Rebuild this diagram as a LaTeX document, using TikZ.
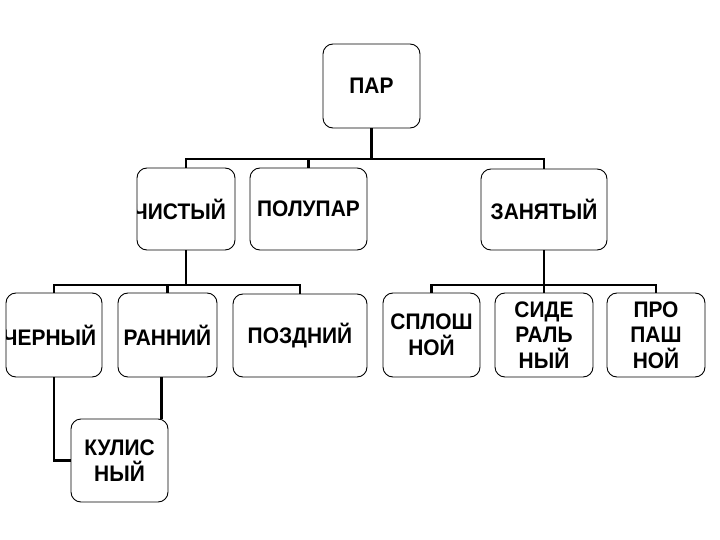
\documentclass[tikz,border=0pt]{standalone}
\usepackage{fontspec}
\setmainfont{Liberation Sans}
\newfontfamily\boxfont[FakeStretch=0.93]{Liberation Sans}
\begin{document}
\begin{tikzpicture}[x=1pt,y=-1pt,
  box/.style={draw, line width=0.9pt, rounded corners=10pt, fill=white, inner sep=0pt,
    align=center, minimum height=83pt, font=\boxfont\fontsize{22.5}{25.5}\selectfont\bfseries},
  txt/.style={inner sep=0pt, font=\boxfont\fontsize{22.5}{25.5}\selectfont\bfseries},
  conn/.style={line width=2.3pt}]
\useasboundingbox (0,0) rectangle (720,540);
% boxes
\node[box, minimum width=97pt, minimum height=84pt] (par) at (371.5,86) {ПАР};
\node[box, minimum width=98pt, minimum height=82pt,
  path picture={\node[txt, anchor=east] (chistt) at ([xshift=43pt]path picture bounding box.center) {ЧИСТЫЙ};}] (chist) at (186,209) {};
\node[box, minimum width=117pt, minimum height=82pt] (polu) at (308.5,209) {ПОЛУПАР};
\node[box, minimum width=126pt, minimum height=81pt] (zan) at (544,209.5) {ЗАНЯТЫЙ};
\node[box, minimum width=96pt, minimum height=84pt,
  path picture={\node[txt, anchor=east] (chert) at ([xshift=44pt]path picture bounding box.center) {ЧЕРНЫЙ};}] (cher) at (54,335) {};
\node[box, minimum width=99pt, minimum height=84pt] (rann) at (167.5,335) {РАННИЙ};
\node[box, minimum width=134pt, minimum height=83pt] (pozd) at (300,335.5) {ПОЗДНИЙ};
\node[box, minimum width=97pt, minimum height=84pt] (splosh) at (431.5,335) {СПЛОШ\\НОЙ};
\node[box, minimum width=98pt, minimum height=84pt] (sider) at (544,335) {СИДЕ\\РАЛЬ\\НЫЙ};
\node[box, minimum width=98pt, minimum height=84pt] (propash) at (656,335) {ПРО\\ПАШ\\НОЙ};
\node[box, minimum width=97pt, minimum height=83pt] (kulis) at (119.5,460.5) {КУЛИС\\НЫЙ};
% connectors
\coordinate (b1) at (0,159);
\coordinate (b2) at (0,285);
\draw[conn] (par.south) -- (par.south |- b1);
\draw[conn] (chist.north) -- (chist.north |- b1) -- (zan.north |- b1) -- (zan.north);
\draw[conn] (polu.north) -- (polu.north |- b1);
\draw[conn] (chist.south) -- (chist.south |- b2);
\draw[conn] (cher.north) -- (cher.north |- b2) -- (pozd.north |- b2) -- (pozd.north);
\draw[conn] (rann.north) -- (rann.north |- b2);
\draw[conn] (zan.south) -- (zan.south |- b2);
\draw[conn] (splosh.north) -- (splosh.north |- b2) -- (propash.north |- b2) -- (propash.north);
\draw[conn] (sider.north) -- (sider.north |- b2);
\draw[conn] (cher.south) |- (kulis.west);
\coordinate (kc) at ([xshift=-7pt]kulis.north east);
\draw[conn] (kc |- rann.south) -- (kc);
\end{tikzpicture}
\end{document}
